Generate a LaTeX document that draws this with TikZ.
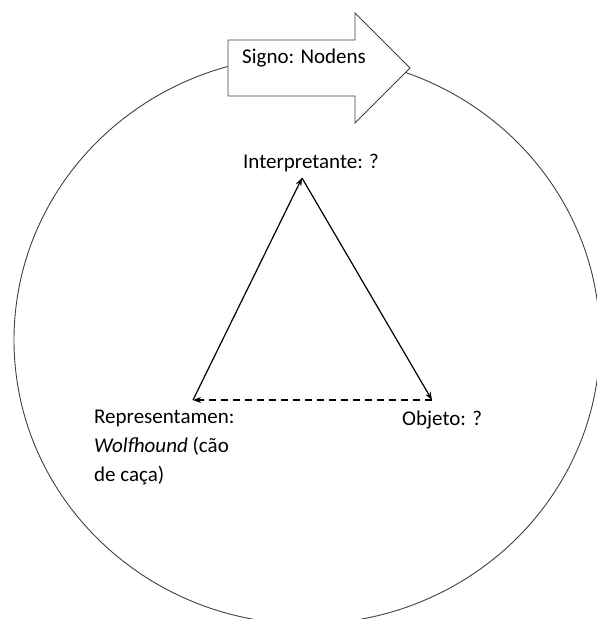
\documentclass[tikz,border=0pt]{standalone}
\usepackage{fontspec}
\setmainfont{Carlito}
\usetikzlibrary{arrows.meta}
\begin{document}
\begin{tikzpicture}[x=1pt,y=-1pt,
  lbl/.style={font=\fontsize{21}{29}\selectfont, inner sep=0pt, anchor=base west, align=left},
  edge/.style={line width=1.2pt, black, -{Stealth[length=8pt,width=6pt]}},
  rim/.style={line width=0.9pt, black!75}]
\useasboundingbox (0,0) rectangle (597,619);
% outer ring (runs past the lower and right edges)
\begin{scope}
\clip (0,0) rectangle (597,619);
\draw[rim] (307,340) ellipse [x radius=293, y radius=284];
\end{scope}
% block arrow carrying the sign
\draw[rim, fill=white, line join=miter]
  (228,40) -- (355,40) -- (355,13) -- (410,68) -- (355,123) -- (355,96) -- (228,96) -- cycle;
\node[lbl] (signo) at (242,63) {Signo: Nodens};
% triangle corners
\coordinate (I) at (302,178);
\coordinate (R) at (193,400);
\coordinate (O) at (432,400);
\draw[edge] (R) -- (I);
\draw[edge] (I) -- (O);
\draw[edge, dash pattern=on 7pt off 5pt] (O) -- (R);
% labels
\node[lbl] (interp) at (243,168) {Interpretante: ?};
\node[lbl] (objeto) at (402,425) {Objeto: ?};
\node[lbl, anchor=north west] (repr) at (94,402.7) {\strut Representamen:\\\textit{Wolfhound} (cão\\de caça)};
\end{tikzpicture}
\end{document}
